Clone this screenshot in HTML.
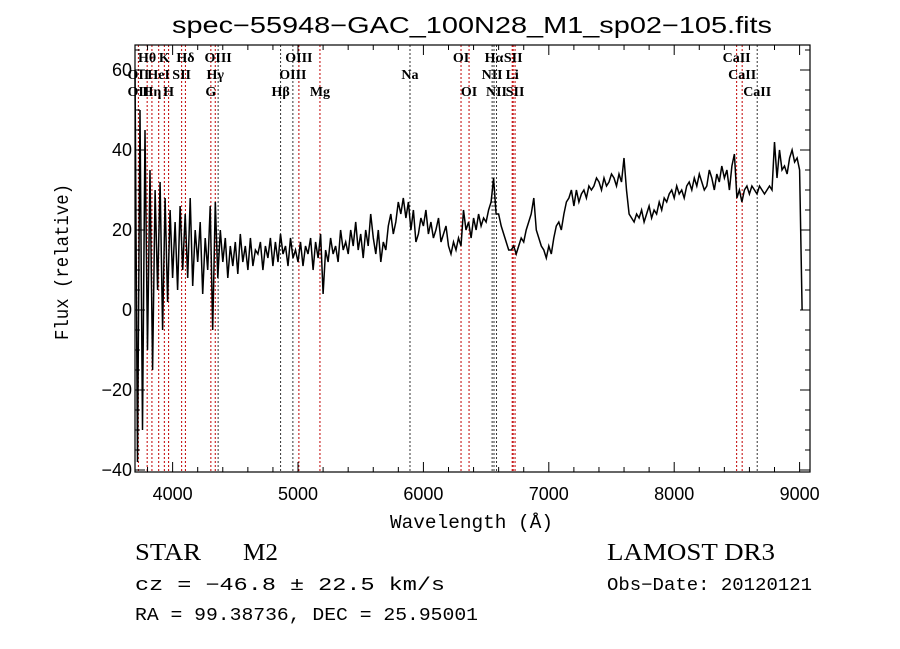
<!DOCTYPE html>
<html><head><meta charset="utf-8"><style>
body{margin:0;background:#fff;width:900px;height:649px;overflow:hidden}
svg{display:block}
.t{font-family:"Liberation Sans",sans-serif;fill:#000}
.m{font-family:"Liberation Mono",monospace;fill:#000}
.s{font-family:"Liberation Serif",serif;fill:#000}
</style></head><body>
<svg id="chart" width="900" height="649" viewBox="0 0 900 649" xmlns="http://www.w3.org/2000/svg">
<text class="t" x="172" y="33" font-size="23" textLength="600" lengthAdjust="spacingAndGlyphs">spec−55948−GAC_100N28_M1_sp02−105.fits</text>
<text class="m" transform="translate(68,262) rotate(-90)" font-size="19" text-anchor="middle" textLength="156" lengthAdjust="spacingAndGlyphs">Flux (relative)</text>
<text class="m" x="390" y="528" font-size="19" textLength="163" lengthAdjust="spacingAndGlyphs">Wavelength (Å)</text>
<g id="lines"></g>
<g id="labels"></g>
<g id="spec"></g>
<g id="axes"></g>
<text class="s" x="135" y="560" font-size="24" textLength="66" lengthAdjust="spacingAndGlyphs">STAR</text>
<text class="s" x="243" y="560" font-size="24" textLength="35" lengthAdjust="spacingAndGlyphs">M2</text>
<text class="s" x="607" y="560" font-size="24" textLength="168" lengthAdjust="spacingAndGlyphs">LAMOST DR3</text>
<text class="m" x="135" y="590" font-size="18" textLength="310" lengthAdjust="spacingAndGlyphs">cz = −46.8 ± 22.5 km/s</text>
<text class="m" x="607" y="590" font-size="18" textLength="205" lengthAdjust="spacingAndGlyphs">Obs−Date: 20120121</text>
<text class="m" x="135" y="620" font-size="18" textLength="343" lengthAdjust="spacingAndGlyphs">RA =  99.38736, DEC =  25.95001</text>
</svg>
<script>
const wlStart = 3700;
const wlStep = 20;
const flux = [
60,-38,50,-30,45, -10,35,-15,30,5, 32,-5,28,2,25, 8,22,5,26,10, 24,8,28,6,20,
12,22,4,18,10, 26,-5,27,8,20, 12,18,8,16,11, 17,9,19,12,16, 10,18,11,15,14,
17,10,16,13,18, 11,17,12,19,14, 16,11,18,13,15, 12,17,11,16,14, 18,10,17,13,19,
4,15,12,18,14, 16,12,20,15,17, 14,20,16,22,15, 19,13,20,16,24, 18,14,20,12,17,
15,21,24,19,22, 27,24,28,23,27, 20,25,17,19,23, 21,25,19,22,18, 20,23,17,19,21,
16,14,17,15,18, 16,25,20,22,18, 23,20,24,21,23, 22,25,27,33,24, 24,21,19,17,15,
15,16,14,16,18, 17,20,22,24,28, 20,18,16,15,13, 16,14,18,21,22, 20,24,27,28,30,
26,30,27,29,30, 28,31,30,31,33, 32,30,33,31,32, 34,33,31,34,32, 38,30,24,23,22,
24,23,25,22,24, 26,23,25,24,27, 25,28,27,29,30, 28,31,29,30,28, 31,32,30,33,31,
34,32,30,31,35, 33,30,34,32,36, 33,35,30,36,39, 28,30,27,30,31, 29,31,30,29,31,
30,29,30,31,30, 42,33,40,35,36, 34,38,40,37,38, 35,0
];
const lineWl = [3727,3797,3835,3889,3934,3968,4072,4102,4305,4340,4363,4861,4959,5007,5175,5893,6300,6364,6548,6563,6583,6708,6716,6731,8498,8542,8662];
const lineColor = ['r','r','r','r','r','r','r','r','r','r','k','k','k','r','r','k','r','r','k','k','k','r','r','r','r','r','k'];
const labelText = ['Hθ','K','Hδ','OIII','OIII','OI','Hα','SII','CaII','OII','HeI','SII','Hγ','OIII','Na','NII','Li','CaII','OII','Hη','H','G','Hβ','Mg','OI','NII','SII','CaII'];
const labelWl = [3797,3934,4102,4363,5007,6300,6563,6716,8498,3727,3889,4072,4340,4959,5893,6548,6708,8542,3727,3835,3968,4305,4861,5175,6364,6583,6731,8662];
const labelRow = [0,0,0,0,0,0,0,0,0,1,1,1,1,1,1,1,1,1,2,2,2,2,2,2,2,2,2,2];
const xTicks = [4000,5000,6000,7000,8000,9000];
const yTicks = [-40,-20,0,20,40,60];

const X0=135, X1=810, Y0=45, Y1=472;
const xMin=3700, xMax=9083, yMin=-40.5, yMax=66.25;
const xs = w => X0 + (w-xMin)/(xMax-xMin)*(X1-X0);
const ys = v => Y1 - (v-yMin)/(yMax-yMin)*(Y1-Y0);
const NS='http://www.w3.org/2000/svg';
function mk(tag, parent){const e=document.createElementNS(NS,tag);parent.appendChild(e);return e;}

const gl=document.getElementById('lines');
lineWl.forEach((w,i)=>{
  const l=mk('line',gl);
  
  
  l.setAttribute('x1',xs(w));l.setAttribute('x2',xs(w));
  l.setAttribute('y1',Y0);l.setAttribute('y2',Y1);
  l.setAttribute('stroke',lineColor[i]==='r'?'#c00000':'#333');
  l.setAttribute('stroke-width','1');
  l.setAttribute('stroke-dasharray','2,2');
});
const glb=document.getElementById('labels');
labelText.forEach((t,i)=>{
  const e=mk('text',glb);
  
  
  e.setAttribute('class','s');
  e.setAttribute('x',xs(labelWl[i]));
  e.setAttribute('y',62+labelRow[i]*17);
  e.setAttribute('font-size','14');
  e.setAttribute('font-weight','bold');
  e.setAttribute('text-anchor','middle');
  e.textContent=t;
});
const gs=document.getElementById('spec');
let d='';
flux.forEach((v,i)=>{d+=(i?'L':'M')+xs(wlStart+i*wlStep).toFixed(1)+' '+ys(v).toFixed(1);});
const p=mk('path',gs);


p.setAttribute('d',d);p.setAttribute('fill','none');p.setAttribute('stroke','#000');p.setAttribute('stroke-width','1.5');

const ga=document.getElementById('axes');
const r=mk('rect',ga);


r.setAttribute('x',X0);r.setAttribute('y',Y0);r.setAttribute('width',X1-X0);r.setAttribute('height',Y1-Y0);
r.setAttribute('fill','none');r.setAttribute('stroke','#000');r.setAttribute('stroke-width','1.2');
function tick(x1,y1,x2,y2){const l=mk('line',ga);
  
  
  l.setAttribute('x1',x1);l.setAttribute('y1',y1);l.setAttribute('x2',x2);l.setAttribute('y2',y2);l.setAttribute('stroke','#000');}
for(let w=3800;w<=9000;w+=200){const maj=w%1000===0;const L=maj?10:5;const x=xs(w);tick(x,Y1,x,Y1-L);tick(x,Y0,x,Y0+L);}
for(let v=-40;v<=65;v+=5){const maj=v%20===0;const L=maj?10:5;const y=ys(v);tick(X0,y,X0+L,y);tick(X1,y,X1-L,y);}
xTicks.forEach(w=>{const e=mk('text',ga);
  
  
  e.setAttribute('class','t');e.setAttribute('x',xs(w));e.setAttribute('y',Y1+28);e.setAttribute('font-size','18');e.setAttribute('text-anchor','middle');e.textContent=w;});
yTicks.forEach(v=>{const e=mk('text',ga);
  
  
  e.setAttribute('class','t');e.setAttribute('x',X0-3);e.setAttribute('y',ys(v)+6);e.setAttribute('font-size','18');e.setAttribute('text-anchor','end');e.textContent=(v<0?'−'+(-v):v);});
</script>
</body></html>
